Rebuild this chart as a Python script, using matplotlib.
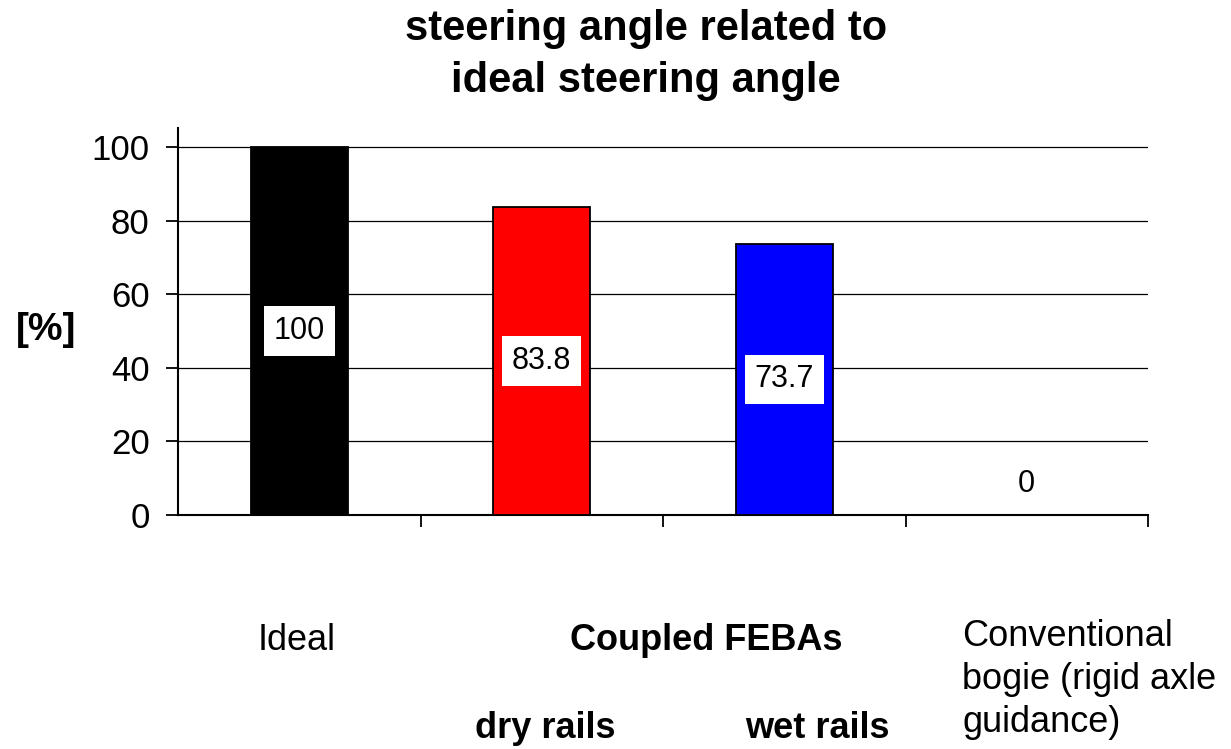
import numpy as np
import matplotlib
matplotlib.use('Agg')
import matplotlib.pyplot as plt

plt.rcParams['font.family'] = ['Liberation Sans', 'DejaVu Sans']

# data
categories = ['Ideal', 'Coupled FEBAs dry rails', 'Coupled FEBAs wet rails', 'Conventional bogie']
values = [100, 83.8, 73.7, 0]
value_labels = ['100', '83.8', '73.7', '0']
bar_colors = ['#000000', '#ff0000', '#0000ff', '#ffffff']
yticks = [0, 20, 40, 60, 80, 100]

fig = plt.figure(figsize=(12.31, 7.49), dpi=100)
ax = fig.add_axes([178/1231, 1-515/749, 970/1231, (515-128)/749])

x = np.arange(len(values))
ax.bar(x, values, width=0.4, color=bar_colors, edgecolor='black', linewidth=1.3, zorder=3)

for xi, v, lab in zip(x, values, value_labels):
    ypos = v/2 if v > 0 else 8.5
    box = dict(boxstyle='square,pad=0.32', fc='white', ec='none') if v > 0 else None
    ax.text(xi, ypos, lab, ha='center', va='center', fontsize=22, bbox=box, zorder=4)

ax.set_xlim(-0.5, 3.5)
ax.set_ylim(0, 105.2)
ax.set_yticks(yticks)
ax.set_yticklabels([str(t) for t in yticks], fontsize=25)
ax.set_xticks([0.5, 1.5, 2.5, 3.5])
ax.set_xticklabels([])
ax.tick_params(axis='both', direction='out', length=8.5, width=1.3, color='black')
ax.tick_params(axis='y', pad=12)
ax.yaxis.grid(True, color='black', linewidth=0.9, zorder=0)
for s in ['top', 'right']:
    ax.spines[s].set_visible(False)
ax.spines['left'].set_linewidth(1.5)
ax.spines['bottom'].set_linewidth(1.5)

# title and axis label
fig.text(646/1231, 1-29/749, 'steering angle related to', ha='center', va='center',
         fontsize=30, fontweight='bold')
fig.text(646/1231, 1-81/749, 'ideal steering angle', ha='center', va='center',
         fontsize=30, fontweight='bold')
fig.text(46/1231, 1-330/749, '[%]', ha='center', va='center', fontsize=28, fontweight='bold')

# category labels below the axis
fig.text(297/1231, 1-640/749, 'Ideal', ha='center', va='center', fontsize=26)
fig.text(706/1231, 1-640/749, 'Coupled FEBAs', ha='center', va='center', fontsize=26, fontweight='bold')
fig.text(545/1231, 1-729/749, 'dry rails', ha='center', va='center', fontsize=26, fontweight='bold')
fig.text(817/1231, 1-729/749, 'wet rails', ha='center', va='center', fontsize=26, fontweight='bold')
fig.text(962/1231, 1-619/749, 'Conventional\nbogie (rigid axle\nguidance)', ha='left', va='top',
         fontsize=26, linespacing=1.3)

fig.savefig('out.png', dpi=100)
